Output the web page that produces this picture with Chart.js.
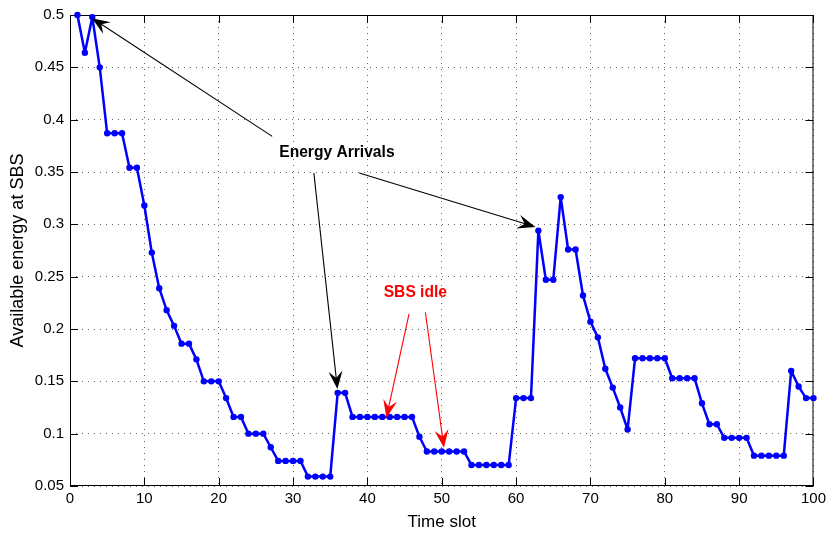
<!DOCTYPE html>
<html>
<head>
<meta charset="utf-8">
<script src="https://cdn.jsdelivr.net/npm/chart.js@4.4.1/dist/chart.umd.min.js"></script>
<style>
  html, body { margin: 0; padding: 0; background: #fff; }
  #wrap { width: 830px; height: 533px; }
</style>
</head>
<body>
<div id="wrap"><canvas id="chart" width="830" height="533"></canvas></div>
<script>
/* ── data ── */
const slots = [
  1, 2, 3, 4, 5, 6, 7, 8, 9, 10,
  11, 12, 13, 14, 15, 16, 17, 18, 19, 20,
  21, 22, 23, 24, 25, 26, 27, 28, 29, 30,
  31, 32, 33, 34, 35, 36, 37, 38, 39, 40,
  41, 42, 43, 44, 45, 46, 47, 48, 49, 50,
  51, 52, 53, 54, 55, 56, 57, 58, 59, 60,
  61, 62, 63, 64, 65, 66, 67, 68, 69, 70,
  71, 72, 73, 74, 75, 76, 77, 78, 79, 80,
  81, 82, 83, 84, 85, 86, 87, 88, 89, 90,
  91, 92, 93, 94, 95, 96, 97, 98, 99, 100,
];
const energy = [
  0.500, 0.464, 0.498, 0.450, 0.387, 0.387, 0.387, 0.354, 0.354, 0.318,
  0.273, 0.239, 0.218, 0.203, 0.186, 0.186, 0.171, 0.150, 0.150, 0.150,
  0.134, 0.116, 0.116, 0.100, 0.100, 0.100, 0.087, 0.074, 0.074, 0.074,
  0.074, 0.059, 0.059, 0.059, 0.059, 0.139, 0.139, 0.116, 0.116, 0.116,
  0.116, 0.116, 0.116, 0.116, 0.116, 0.116, 0.097, 0.083, 0.083, 0.083,
  0.083, 0.083, 0.083, 0.070, 0.070, 0.070, 0.070, 0.070, 0.070, 0.134,
  0.134, 0.134, 0.294, 0.247, 0.247, 0.326, 0.276, 0.276, 0.232, 0.207,
  0.192, 0.162, 0.144, 0.125, 0.104, 0.172, 0.172, 0.172, 0.172, 0.172,
  0.153, 0.153, 0.153, 0.153, 0.129, 0.109, 0.109, 0.096, 0.096, 0.096,
  0.096, 0.079, 0.079, 0.079, 0.079, 0.079, 0.160, 0.145, 0.134, 0.134,
];
const xTicks = [0, 10, 20, 30, 40, 50, 60, 70, 80, 90, 100];
const yTicks = [0.05, 0.1, 0.15, 0.2, 0.25, 0.3, 0.35, 0.4, 0.45, 0.5];

// annotations, in data coordinates: [fromX, fromY, toX, toY]
const arrivalText   = { text: 'Energy Arrivals', x: 35.9, y: 0.368 };
const arrivalArrows = [[27.2, 0.384, 2.95, 0.497], [32.8, 0.349, 35.97, 0.1426], [38.9, 0.349, 62.6, 0.2975]];
const idleText      = { text: 'SBS idle', x: 46.45, y: 0.235 };
const idleArrows    = [[45.6, 0.2145, 42.55, 0.115], [47.8, 0.216, 50.3, 0.0865]];

const FONT = '"Liberation Sans", Arial, Helvetica, sans-serif';

function arrow(ctx, x1, y1, x2, y2, color) {
  const dx = x2 - x1, dy = y2 - y1;
  const len = Math.hypot(dx, dy);
  const ux = dx / len, uy = dy / len;
  const nx = -uy, ny = ux;
  const L = 18, W = 7;
  ctx.strokeStyle = color; ctx.fillStyle = color; ctx.lineWidth = 1.1;
  ctx.beginPath();
  ctx.moveTo(x1, y1); ctx.lineTo(x2 - ux * L * 0.6, y2 - uy * L * 0.6);
  ctx.stroke();
  ctx.beginPath();
  ctx.moveTo(x2, y2);
  ctx.lineTo(x2 - ux * L + nx * W, y2 - uy * L + ny * W);
  ctx.lineTo(x2 - ux * L * 0.62, y2 - uy * L * 0.62);
  ctx.lineTo(x2 - ux * L - nx * W, y2 - uy * L - ny * W);
  ctx.closePath();
  ctx.fill();
}

const framePlugin = {
  id: 'frame',
  beforeDatasetsDraw(chart) {
    const { ctx, chartArea: a, scales } = chart;
    ctx.save();
    ctx.strokeStyle = '#000'; ctx.lineWidth = 1;
    ctx.strokeRect(a.left + 0.5, a.top + 0.5, a.right - a.left - 1, a.bottom - a.top - 1);
    ctx.beginPath();
    xTicks.forEach(v => {
      const x = Math.round(scales.x.getPixelForValue(v)) + 0.5;
      ctx.moveTo(x, a.bottom); ctx.lineTo(x, a.bottom - 8);
      ctx.moveTo(x, a.top); ctx.lineTo(x, a.top + 8);
    });
    yTicks.forEach(v => {
      const y = Math.round(scales.y.getPixelForValue(v)) + 0.5;
      ctx.moveTo(a.left, y); ctx.lineTo(a.left + 8, y);
      ctx.moveTo(a.right, y); ctx.lineTo(a.right - 8, y);
    });
    ctx.stroke();
    ctx.restore();
  },
  afterDatasetsDraw(chart) {
    const { ctx, scales } = chart;
    const px = v => scales.x.getPixelForValue(v);
    const py = v => scales.y.getPixelForValue(v);
    ctx.save();
    arrivalArrows.forEach(r => arrow(ctx, px(r[0]), py(r[1]), px(r[2]), py(r[3]), '#000'));
    idleArrows.forEach(r => arrow(ctx, px(r[0]), py(r[1]), px(r[2]), py(r[3]), '#ff0000'));
    ctx.textAlign = 'center'; ctx.textBaseline = 'middle';
    ctx.font = 'bold 15.6px ' + FONT;
    ctx.fillStyle = '#000';
    ctx.fillText(arrivalText.text, px(arrivalText.x), py(arrivalText.y));
    ctx.fillStyle = '#ff0000';
    ctx.fillText(idleText.text, px(idleText.x), py(idleText.y));
    ctx.restore();
  },
};

const gridStyle = { color: 'rgba(0,0,0,0.6)', lineWidth: 1, drawTicks: false };

new Chart(document.getElementById('chart').getContext('2d'), {
  type: 'line',
  data: {
    datasets: [{
      data: slots.map((s, i) => ({ x: s, y: energy[i] })),
      borderColor: '#0000ff', backgroundColor: '#0000ff',
      borderWidth: 2.5, borderJoinStyle: 'round', borderCapStyle: 'round',
      pointRadius: 3.2, pointBorderWidth: 0,
      pointBackgroundColor: '#0000ff', tension: 0, clip: false,
    }],
  },
  options: {
    responsive: false, animation: false, devicePixelRatio: 1,
    layout: { padding: { top: 13, right: 13, left: 0, bottom: 0 }, autoPadding: false },
    plugins: { legend: { display: false }, tooltip: { enabled: false } },
    scales: {
      x: {
        type: 'linear', min: 0, max: 100,
        afterBuildTicks: s => { s.ticks = xTicks.map(v => ({ value: v })); },
        afterFit: s => { s.height = 47; },
        border: { display: false, dash: [1, 5] },
        grid: gridStyle,
        ticks: { color: '#000', padding: 4, maxRotation: 0, font: { family: FONT, size: 15 } },
        title: { display: true, text: 'Time slot', color: '#000', padding: { top: 0, bottom: 0 },
                 font: { family: FONT, size: 17 } },
      },
      y: {
        type: 'linear', min: 0.05, max: 0.5,
        afterBuildTicks: s => { s.ticks = yTicks.map(v => ({ value: v })); },
        afterFit: s => { s.width = 70; },
        border: { display: false, dash: [1, 5] },
        grid: gridStyle,
        ticks: { color: '#000', padding: 6, font: { family: FONT, size: 15 },
                 callback: v => String(+v.toFixed(2)) },
        title: { display: true, text: 'Available energy at SBS', color: '#000', padding: { top: 7, bottom: 0 },
                 font: { family: FONT, size: 18 } },
      },
    },
  },
  plugins: [framePlugin],
});
</script>
</body>
</html>
